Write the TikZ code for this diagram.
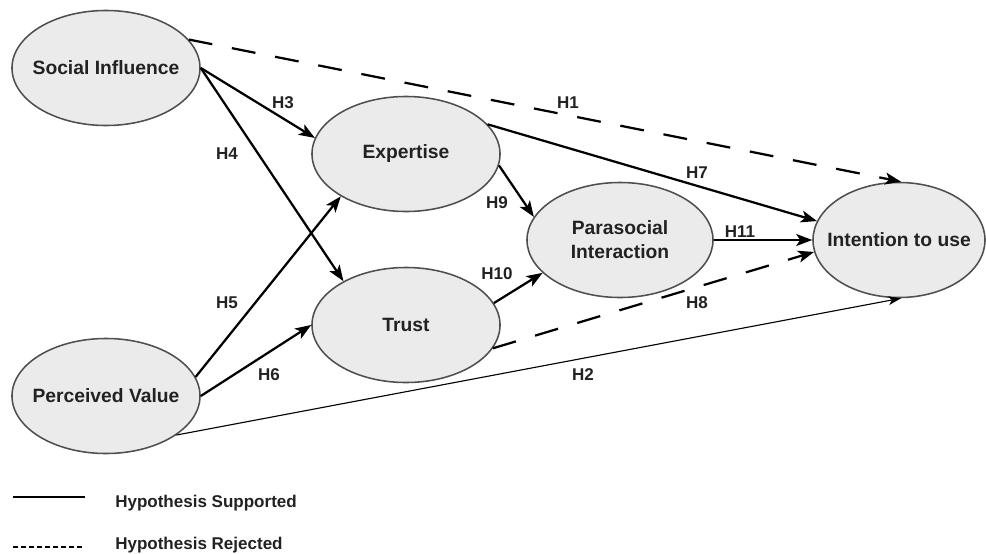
\documentclass[tikz,border=0pt]{standalone}
\usepackage{fontspec}
\setmainfont{Liberation Sans}
\usetikzlibrary{arrows.meta,shapes.geometric}
\definecolor{bord}{HTML}{4F4F4F}
\definecolor{remp}{HTML}{EBEBEB}
\definecolor{encre}{HTML}{222222}

\begin{document}
\begin{tikzpicture}[x=0.025cm, y=-0.025cm]
\tikzset{noeud/.style={draw=bord, fill=remp, ellipse, line width=1.1pt, minimum width=4.7cm, minimum height=2.875cm, inner xsep=-0.5cm, inner ysep=0pt, text=encre, font=\fontsize{13.7}{17}\selectfont\bfseries, align=center}}
\tikzset{etiq/.style={text=encre, font=\fontsize{12.1}{14}\selectfont\bfseries, inner sep=0pt}}
\tikzset{fleche/.style={line width=1.6pt, -{Stealth[length=0.4cm, width=0.3cm, inset=0.1cm]}}}
\tikzset{rejet/.style={fleche, dash pattern=on 0.6cm off 0.5cm}}
\useasboundingbox (0,0) rectangle (986,553);
\node[noeud] (SI) at (106,68) {Social Influence};
\node[noeud] (EX) at (406,154) {Expertise};
\node[noeud] (TR) at (406,325) {Trust};
\node[noeud] (PV) at (106,396) {Perceived Value};
\node[noeud, minimum width=4.65cm] (PI) at (620,240) {Parasocial\\Interaction};
\node[noeud, minimum width=4.3cm] (IU) at (899,240) {Intention to use};
\draw[rejet] (SI.19) -- (IU.88);
\draw[fleche] (SI.east) -- (EX.170);
\draw[fleche] (SI.east) -- (TR.145);
\draw[fleche] (PV.12) -- (EX.213);
\draw[fleche] (PV.east) -- (TR.west);
\draw[line width=0.8pt, -{Stealth[length=0.32cm, width=0.22cm, inset=0.09cm]}] (PV.-29) -- (IU.-88);
\draw[fleche] (EX.20) -- (IU.167);
\draw[fleche] (EX.-7) -- (PI.165);
\draw[fleche] (TR.14) -- (PI.203);
\draw[fleche] (PI.east) -- (IU.west);
\draw[rejet] (TR.-15) -- (IU.188);
\node[etiq] (h1) at (568,103) {H1};
\node[etiq] (h2) at (583,375) {H2};
\node[etiq] (h3) at (283,103) {H3};
\node[etiq] (h4) at (227,154) {H4};
\node[etiq] (h5) at (227,303) {H5};
\node[etiq] (h6) at (269,375) {H6};
\node[etiq] (h7) at (697,173) {H7};
\node[etiq] (h8) at (697,303) {H8};
\node[etiq] (h9) at (497,203) {H9};
\node[etiq] (h10) at (497,274) {H10};
\node[etiq] (h11) at (740,232) {H11};
\coordinate (s1) at (13,497);
\coordinate (s2) at (85,497);
\draw[line width=1pt] (s1) -- (s2);
\node[etiq, anchor=west] (sup) at (115,503) {Hypothesis Supported};
\coordinate (r1) at (13,547);
\coordinate (r2) at (85,547);
\draw[line width=1pt, dash pattern=on 0.12cm off 0.08cm] (r1) -- (r2);
\node[etiq, anchor=west] (rej) at (115,545) {Hypothesis Rejected};
\end{tikzpicture}
\end{document}
